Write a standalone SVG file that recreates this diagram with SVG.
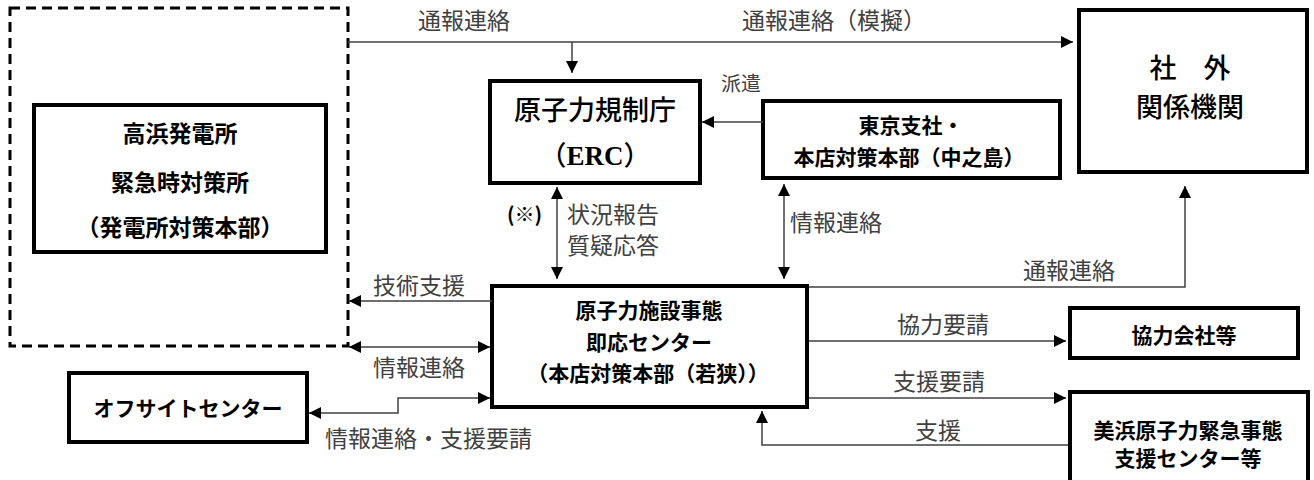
<svg xmlns="http://www.w3.org/2000/svg" width="1314" height="480" viewBox="0 0 1314 480">
<style>
.box{fill:#fff;stroke:#000;stroke-width:4}
.dash{fill:none;stroke:#000;stroke-width:3;stroke-dasharray:10 6}
.c{fill:none;stroke:#404040;stroke-width:1.5}
.nt{font-family:"Noto Sans CJK JP","Noto Sans",sans-serif;font-weight:bold;font-size:21px;fill:#000;text-anchor:middle}
.nm{font-family:"Noto Sans CJK JP","Noto Sans",sans-serif;font-weight:500;font-size:27px;fill:#000;text-anchor:middle}
.lb{font-family:"Noto Sans CJK JP","Noto Sans",sans-serif;font-weight:normal;font-size:23px;fill:#404040}
</style>
<defs>
<marker id="ah" viewBox="0 0 12 12" refX="12" refY="6" markerWidth="12" markerHeight="12" markerUnits="userSpaceOnUse" orient="auto-start-reverse">
<path d="M0,0 L12,6 L0,12 z" fill="#000"/>
</marker>
</defs>
<rect width="1314" height="480" fill="#fff"/>

<g id="plant-area">
<rect class="dash" x="10" y="8" width="338" height="338"/>
</g>
<g id="takahama">
<rect class="box" x="34" y="105" width="292" height="147"/>
<text class="nt" style="font-size:23px" x="180" y="142">高浜発電所</text>
<text class="nt" style="font-size:23px" x="180" y="191">緊急時対策所</text>
<text class="nt" style="font-size:23px" x="180" y="236">（発電所対策本部）</text>
</g>
<g id="erc">
<rect class="box" x="490" y="81" width="210" height="102"/>
<text class="nm" x="595" y="120">原子力規制庁</text>
<text class="nm" x="595" y="165">（<tspan style="font-family:'Liberation Serif',serif;font-weight:bold">ERC</tspan>）</text>
</g>
<g id="tokyo">
<rect class="box" x="763" y="101" width="297" height="77"/>
<text class="nt" x="911" y="133">東京支社・</text>
<text class="nt" x="909" y="165">本店対策本部（中之島）</text>
</g>
<g id="external">
<rect class="box" x="1079" y="10" width="228" height="162"/>
<text class="nm" x="1190" y="78">社　外</text>
<text class="nm" x="1190" y="117">関係機関</text>
</g>
<g id="center">
<rect class="box" x="492" y="286" width="315" height="121"/>
<text class="nt" x="649" y="318">原子力施設事態</text>
<text class="nt" x="649" y="350">即応センター</text>
<text class="nt" x="648" y="381">（本店対策本部（若狭））</text>
</g>
<g id="offsite">
<rect class="box" x="69" y="373" width="238" height="69"/>
<text class="nt" x="188" y="416">オフサイトセンター</text>
</g>
<g id="partners">
<rect class="box" x="1070" y="308" width="228" height="50"/>
<text class="nt" x="1184" y="343">協力会社等</text>
</g>
<g id="mihama">
<rect class="box" x="1070" y="392" width="238" height="94"/>
<text class="nt" x="1188" y="438">美浜原子力緊急事態</text>
<text class="nt" x="1188" y="466">支援センター等</text>
</g>

<g id="connectors">
<path class="c" d="M348,42 H1073" marker-end="url(#ah)"/>
<path class="c" d="M572,42 V73" marker-end="url(#ah)"/>
<path class="c" d="M763,122 H702" marker-end="url(#ah)"/>
<path class="c" d="M557,187 V279" marker-start="url(#ah)" marker-end="url(#ah)"/>
<path class="c" d="M784,184 V279" marker-start="url(#ah)" marker-end="url(#ah)"/>
<path class="c" d="M809,287 H1185 V186" marker-end="url(#ah)"/>
<path class="c" d="M492,301 H349" marker-end="url(#ah)"/>
<path class="c" d="M349,347 H490" marker-start="url(#ah)" marker-end="url(#ah)"/>
<path class="c" d="M309,413 H398 V398 H490" marker-start="url(#ah)" marker-end="url(#ah)"/>
<path class="c" d="M809,341 H1066" marker-end="url(#ah)"/>
<path class="c" d="M809,398 H1066" marker-end="url(#ah)"/>
<path class="c" d="M1068,445 H762 V411" marker-end="url(#ah)"/>
</g>

<g id="labels">
<text class="lb" x="418" y="29">通報連絡</text>
<text class="lb" x="742" y="29">通報連絡（模擬）</text>
<text class="lb" style="font-size:20px" x="721" y="91">派遣</text>
<text class="lb" style="font-size:20px;font-weight:bold;fill:#000" x="507" y="222">(※)</text>
<text class="lb" x="567" y="223">状況報告</text>
<text class="lb" x="567" y="254">質疑応答</text>
<text class="lb" x="790" y="231">情報連絡</text>
<text class="lb" x="1023" y="279">通報連絡</text>
<text class="lb" x="373" y="294">技術支援</text>
<text class="lb" x="373" y="376">情報連絡</text>
<text class="lb" x="325" y="447">情報連絡・支援要請</text>
<text class="lb" x="897" y="333">協力要請</text>
<text class="lb" x="893" y="390">支援要請</text>
<text class="lb" x="915" y="439">支援</text>
</g>
</svg>
